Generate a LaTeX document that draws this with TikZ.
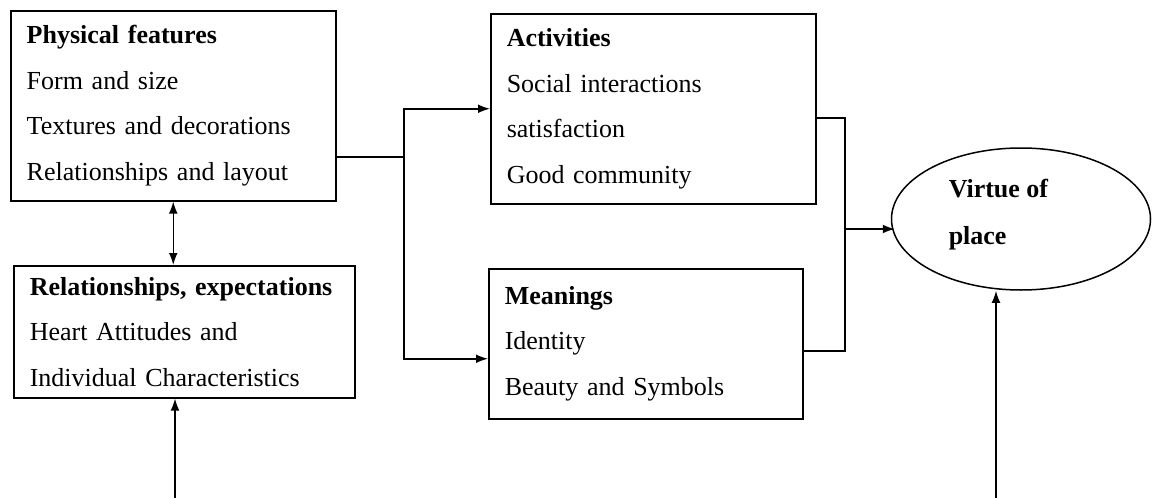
\documentclass[tikz,border=0pt]{standalone}
\usepackage{fontspec}
\setmainfont{Liberation Serif}
\usetikzlibrary{calc,shapes.geometric,arrows.meta}
\tikzset{>={Latex[length=6pt,width=4.4pt]}}

\begin{document}
\begin{tikzpicture}[x=0.5pt, y=-0.5pt, line width=0.75pt,
    factor/.style={draw, rectangle, align=left, anchor=north west, inner xsep=8pt, inner ysep=0pt, font=\fontsize{13}{22.8}\selectfont}]
    \useasboundingbox (0,0) rectangle (1152,498);
    \node[factor, text width=146.5pt, minimum height=95pt] (phys) at (10,10) {\textbf{Physical features}\\Form and size\\Textures and decorations\\Relationships and layout};
    \node[factor, text width=154.5pt, minimum height=66pt] (rel) at (13,265) {\textbf{Relationships, expectations}\\Heart Attitudes and\\Individual Characteristics};
    \node[factor, text width=146.5pt, minimum height=95pt] (act) at (490,13) {\textbf{Activities}\\Social interactions\\satisfaction\\Good community};
    \node[factor, text width=141pt, minimum height=75pt] (mean) at (488,268) {\textbf{Meanings}\\Identity\\Beauty and Symbols};
    \node[draw, ellipse, minimum width=129.5pt, minimum height=71pt] (place) at (1021,219) {};
    \node[align=left, anchor=west, inner sep=0pt, font=\bfseries\fontsize{13}{23.5}\selectfont] (virtue) at (948,214.5) {Virtue of\\place};
    \coordinate (split) at (404,157);
    \coordinate (join) at (845,229);
    \coordinate (hbase) at (175,498);
    \coordinate (vbase) at (996,498);
    \draw[<->] (phys.south) -- (phys.south |- rel.north);
    \draw[->] (hbase) -- (hbase |- rel.south);
    \draw (phys.east |- split) -- (split);
    \draw[->] (split) |- (act.west);
    \draw[->] (split) |- ($(mean.west)+(0,15)$);
    \draw ($(act.east)+(0,9)$) -| (join);
    \draw ($(mean.east)+(0,7)$) -| (join);
    \draw[->] (join) -- (join -| place.188);
    \draw[->] (vbase) -- (vbase |- place.south);
\end{tikzpicture}
\end{document}
